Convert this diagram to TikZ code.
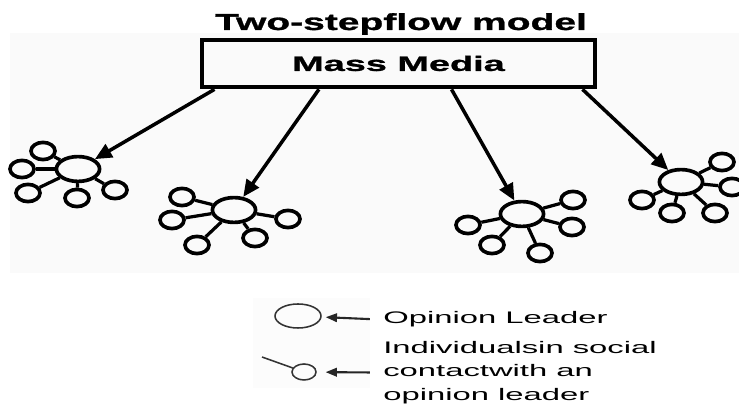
\documentclass[tikz,border=0pt]{standalone}
\usepackage{fontspec}
\setmainfont{Liberation Sans}
\newfontfamily\titlefont[FakeStretch=1.68, FakeBold=1.2]{Liberation Sans}
\newfontfamily\mediafont[FakeStretch=1.82, FakeBold=1.2]{Liberation Sans}
\newfontfamily\legfont[FakeStretch=1.96]{Liberation Sans}
\usepackage{tikz}
\usetikzlibrary{shapes,arrows.meta,positioning}

\begin{document}
\begin{tikzpicture}[
        x=0.025cm, y=-0.025cm,
        >={Triangle[length=12pt,width=10.5pt]},
        heading/.style={font=\titlefont\bfseries\fontsize{16.5}{18}\selectfont, inner sep=0, anchor=base},
        media/.style={draw, rectangle, line width=3.2pt, minimum width=9.83cm, minimum height=1.18cm,
            font=\mediafont\bfseries\fontsize{14.8}{16}\selectfont},
        leader/.style={draw, ellipse, line width=2.6pt, inner sep=0, minimum width=1.08cm, minimum height=0.62cm},
        follower/.style={draw, ellipse, line width=2.6pt, inner sep=0, minimum width=0.6cm, minimum height=0.43cm},
        spoke/.style={line width=2.3pt},
        flow/.style={->, line width=2.5pt},
        legleader/.style={draw=black!80, ellipse, line width=1.1pt, inner sep=0, minimum width=1.15cm, minimum height=0.6cm},
        legfollower/.style={draw=black!80, ellipse, line width=1.1pt, inner sep=0, minimum width=0.6cm, minimum height=0.4cm},
        legarrow/.style={-{Triangle[length=8pt,width=6pt]}, line width=1.5pt, black!85, shorten <=0.33cm},
        legtext/.style={font=\legfont\fontsize{11.9}{16.7}\selectfont, inner sep=0, align=left}
    ]
        \useasboundingbox (0,0) rectangle (739,405);
        \fill[black!2] (10,33) rectangle (739,273);
        \fill[black!1] (253,298) rectangle (370,388);

        % Title and source
        \node (title) [heading] at (401,30) {Two-stepflow model};
        \node (media) [media] at (398.5,63.5) {Mass Media};

        % Opinion leaders
        \node (lead1) [leader] at (78,169) {};
        \node (lead2) [leader] at (234,210) {};
        \node (lead3) [leader] at (522,214) {};
        \node (lead4) [leader] at (681,182) {};

        % Individuals round each leader
        \node (f1a) [follower] at (43,151) {};
        \node (f1b) [follower] at (22,169) {};
        \node (f1c) [follower] at (28,193) {};
        \node (f1d) [follower] at (77,198) {};
        \node (f1e) [follower] at (115,190) {};

        \node (f2a) [follower] at (182,197) {};
        \node (f2b) [follower] at (172,220) {};
        \node (f2c) [follower] at (197,245) {};
        \node (f2d) [follower] at (255,238) {};
        \node (f2e) [follower] at (288,219) {};

        \node (f3a) [follower] at (573,200) {};
        \node (f3b) [follower] at (572,227) {};
        \node (f3c) [follower] at (540,253) {};
        \node (f3d) [follower] at (492,245) {};
        \node (f3e) [follower] at (468,225) {};

        \node (f4a) [follower] at (722,162) {};
        \node (f4b) [follower] at (732,187) {};
        \node (f4c) [follower] at (715,213) {};
        \node (f4d) [follower] at (672,213) {};
        \node (f4e) [follower] at (642,200) {};

        % Social contacts
        \draw[spoke] (lead1) -- (f1a);
        \draw[spoke] (lead1) -- (f1b);
        \draw[spoke] (lead1) -- (f1c);
        \draw[spoke] (lead1) -- (f1d);
        \draw[spoke] (lead1) -- (f1e);

        \draw[spoke] (lead2) -- (f2a);
        \draw[spoke] (lead2) -- (f2b);
        \draw[spoke] (lead2) -- (f2c);
        \draw[spoke] (lead2) -- (f2d);
        \draw[spoke] (lead2) -- (f2e);

        \draw[spoke] (lead3) -- (f3a);
        \draw[spoke] (lead3) -- (f3b);
        \draw[spoke] (lead3) -- (f3c);
        \draw[spoke] (lead3) -- (f3d);
        \draw[spoke] (lead3) -- (f3e);

        \draw[spoke] (lead4) -- (f4a);
        \draw[spoke] (lead4) -- (f4b);
        \draw[spoke] (lead4) -- (f4c);
        \draw[spoke] (lead4) -- (f4d);
        \draw[spoke] (lead4) -- (f4e);

        % Media flow
        \draw[flow] (media.188) -- (lead1);
        \draw[flow] (media.198) -- (lead2);
        \draw[flow] (media.334) -- (lead3);
        \draw[flow] (media.352) -- (lead4);

        % Legend
        \node (keylead) [legleader] at (298,316) {};
        \node (keyfollow) [legfollower] at (304,372) {};
        \coordinate (keytail) at (262,357);
        \draw[black!80, line width=1.1pt] (keytail) -- (keyfollow);

        \node (keytext1) [legtext, anchor=base west] at (383,324) {Opinion Leader};
        \node (keytext2) [legtext, anchor=north west] at (383,341) {Individualsin social\\contactwith an\\opinion leader};

        \draw[legarrow, shorten >=0.1cm] (keytext1.west) -- (keylead);
        \draw[legarrow, shorten >=0.22cm] (keytext2.west) -- (keyfollow);

    \end{tikzpicture}
\end{document}
